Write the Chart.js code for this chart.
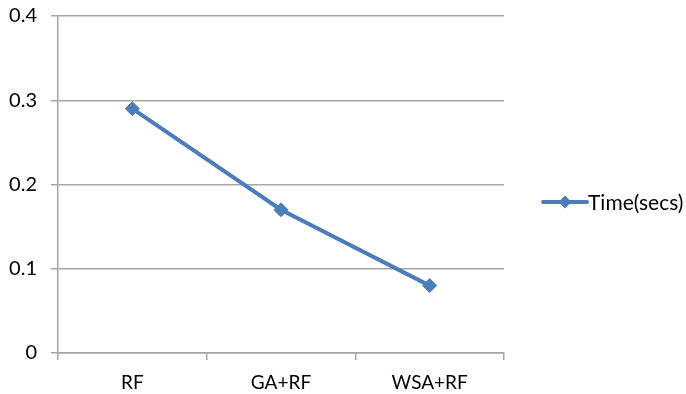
<!DOCTYPE html>
<html>
<head>
<meta charset="utf-8">
<script src="https://cdn.jsdelivr.net/npm/chart.js@4/dist/chart.umd.min.js"></script>
<style>
  html, body { margin: 0; padding: 0; background: #fff; }
  #wrap { width: 686px; height: 394px; position: relative; }
</style>
</head>
<body>
<div id="wrap"><canvas id="c"></canvas></div>
<script>
const categories = ['RF', 'GA+RF', 'WSA+RF'];
const timeSecs = [0.29, 0.17, 0.08];
const seriesName = 'Time(secs)';
const yTicks = [0, 0.1, 0.2, 0.3, 0.4];

const lineColor = '#4A7EBB';
const gridColor = '#A6A6A6';
const fontFamily = 'Lato, "Open Sans", sans-serif';

// Legend on the right: short line with a diamond marker, then the series name
const sideLegend = {
  id: 'sideLegend',
  afterDraw(chart) {
    const ctx = chart.ctx;
    const ds = chart.data.datasets[0];
    const y = 202;
    const x0 = 543, x1 = 587;
    ctx.save();
    ctx.strokeStyle = ds.borderColor;
    ctx.lineWidth = ds.borderWidth;
    ctx.lineCap = 'round';
    ctx.beginPath();
    ctx.moveTo(x0, y);
    ctx.lineTo(x1, y);
    ctx.stroke();
    const cx = (x0 + x1) / 2, r = 6.5;
    ctx.fillStyle = ds.pointBackgroundColor;
    ctx.beginPath();
    ctx.moveTo(cx, y - r);
    ctx.lineTo(cx + r, y);
    ctx.lineTo(cx, y + r);
    ctx.lineTo(cx - r, y);
    ctx.closePath();
    ctx.fill();
    ctx.fillStyle = '#000';
    ctx.font = '21px ' + fontFamily;
    ctx.textBaseline = 'middle';
    ctx.textAlign = 'left';
    ctx.fillText(ds.label, x1 + 1, y + 1);
    ctx.restore();
  }
};

new Chart(document.getElementById('c'), {
  type: 'line',
  data: {
    labels: categories,
    datasets: [{
      label: seriesName,
      data: timeSecs,
      borderColor: lineColor,
      backgroundColor: lineColor,
      pointBackgroundColor: lineColor,
      pointBorderColor: lineColor,
      borderWidth: 4,
      pointStyle: 'rectRot',
      pointRadius: 7,
      pointBorderWidth: 1,
      tension: 0,
      fill: false
    }]
  },
  options: {
    responsive: true,
    maintainAspectRatio: false,
    animation: false,
    devicePixelRatio: 1,
    layout: { padding: { left: 0, right: 182, top: 16, bottom: 0 } },
    plugins: { legend: { display: false }, tooltip: { enabled: false } },
    scales: {
      x: {
        offset: true,
        grid: {
          offset: true,
          drawOnChartArea: false,
          drawTicks: true,
          tickLength: 7,
          color: gridColor,
          lineWidth: 1.5
        },
        border: { display: true, color: gridColor, width: 1.5 },
        ticks: { color: '#000', font: { family: fontFamily, size: 19 }, padding: 11 },
        afterFit(scale) {
          scale.height = 41;
          scale.paddingLeft = 0;
          scale.paddingRight = 0;
        }
      },
      y: {
        min: 0,
        max: 0.4,
        afterBuildTicks(scale) { scale.ticks = yTicks.map(v => ({ value: v })); },
        grid: {
          color: gridColor,
          lineWidth: 1.5,
          drawTicks: true,
          tickLength: 7,
        },
        border: { display: true, color: gridColor, width: 1.5 },
        ticks: {
          color: '#000',
          font: { family: fontFamily, size: 20 },
          padding: 14,
          callback: v => String(v)
        },
        afterFit(scale) {
          scale.width = 58;
          scale.paddingTop = 0;
          scale.paddingBottom = 0;
        }
      }
    }
  },
  plugins: [sideLegend]
});
</script>
</body>
</html>
